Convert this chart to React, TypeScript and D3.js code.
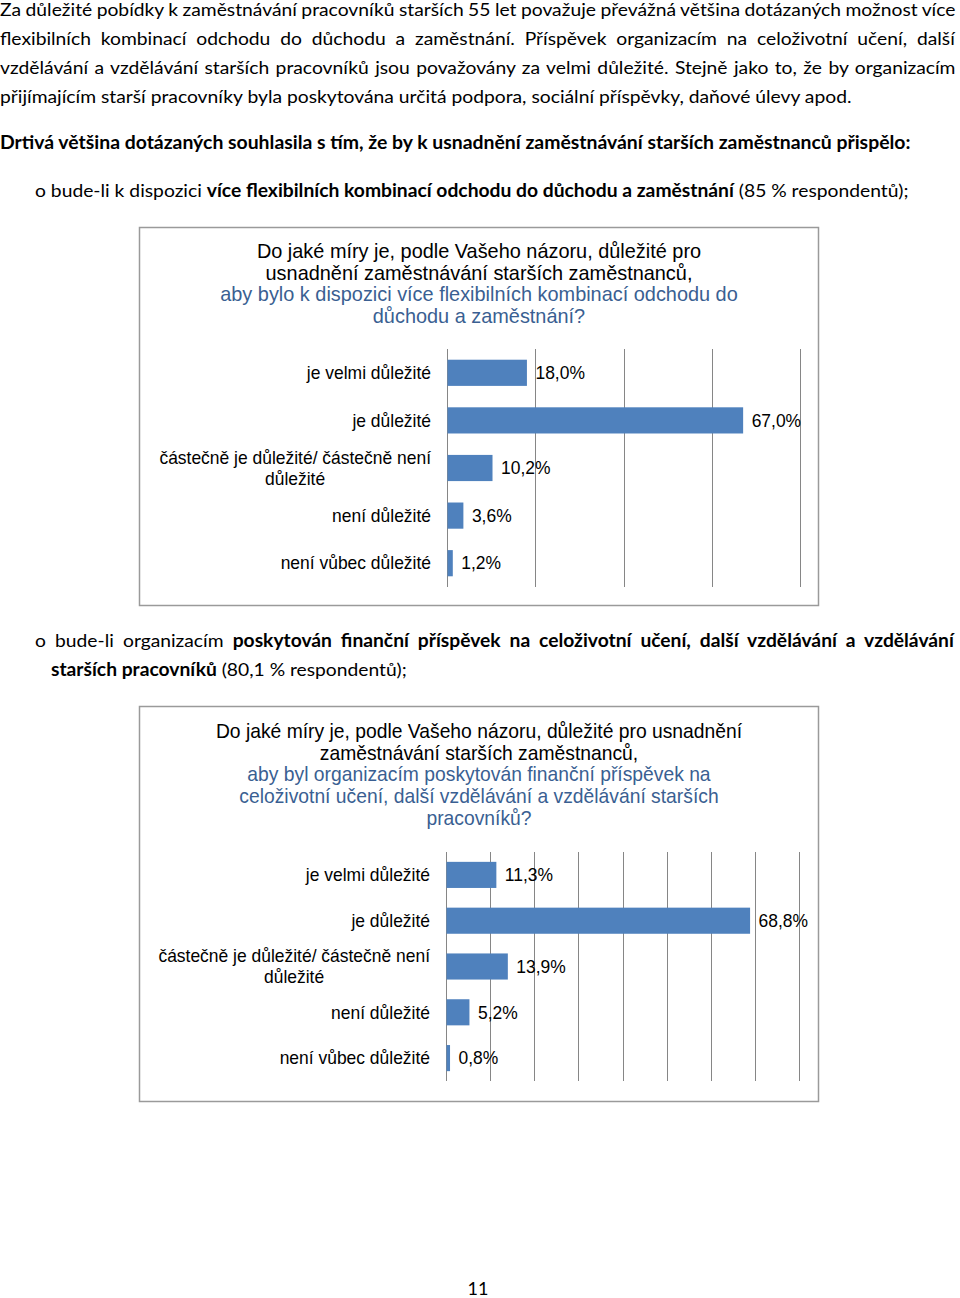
import React, { useEffect, useRef } from "react";
import * as d3 from "d3";

// ---------- text content ----------
const introLines = [
  "Za důležité pobídky k zaměstnávání pracovníků starších 55 let považuje převážná většina dotázaných možnost více",
  "flexibilních kombinací odchodu do důchodu a zaměstnání. Příspěvek organizacím na celoživotní učení, další",
  "vzdělávání a vzdělávání starších pracovníků jsou považovány za velmi důležité. Stejně jako to, že by organizacím",
  "přijímajícím starší pracovníky byla poskytována určitá podpora, sociální příspěvky, daňové úlevy apod.",
];
const summaryLine =
  "Drtivá většina dotázaných souhlasila s tím, že by k usnadnění zaměstnávání starších zaměstnanců přispělo:";
const bullet1Parts: [string, boolean][] = [
  ["o bude-li k dispozici ", false],
  ["více flexibilních kombinací odchodu do důchodu a zaměstnání", true],
  [" (85 % respondentů);", false],
];
const bullet2Line1Parts: [string, boolean][] = [
  ["o bude-li organizacím ", false],
  ["poskytován finanční příspěvek na celoživotní učení, další vzdělávání a vzdělávání", true],
];
const bullet2Line2Parts: [string, boolean][] = [
  ["starších pracovníků", true],
  [" (80,1 % respondentů);", false],
];
const pageNumber = "11";

// ---------- chart data ----------
const categoryLines: string[][] = [
  ["je velmi důležité"],
  ["je důležité"],
  ["částečně je důležité/ částečně není", "důležité"],
  ["není důležité"],
  ["není vůbec důležité"],
];
const categories = categoryLines.map((l) => l.join(" "));
const flexibleValues = [18.0, 67.0, 10.2, 3.6, 1.2];
const financialValues = [11.3, 68.8, 13.9, 5.2, 0.8];
const flexibleTicks = [0, 20, 40, 60, 80];
const financialTicks = [0, 10, 20, 30, 40, 50, 60, 70, 80];
const axisMax = 80;

const flexibleTitle: [string, boolean][] = [
  ["Do jaké míry je, podle Vašeho názoru, důležité pro", false],
  ["usnadnění zaměstnávání starších zaměstnanců,", false],
  ["aby bylo k dispozici více flexibilních kombinací odchodu do", true],
  ["důchodu a zaměstnání?", true],
];
const financialTitle: [string, boolean][] = [
  ["Do jaké míry je, podle Vašeho názoru, důležité pro usnadnění", false],
  ["zaměstnávání starších zaměstnanců,", false],
  ["aby byl organizacím poskytován finanční příspěvek na", true],
  ["celoživotní učení, další vzdělávání a vzdělávání starších", true],
  ["pracovníků?", true],
];

const BODY_FONT = "Lato, 'Open Sans', sans-serif";
const CHART_FONT = "'Liberation Sans', Arial, sans-serif";
const BAR_COLOR = "#4F81BD";
const TITLE_BLUE = "#3A5F92";
const GRID = "#868686";

type LineOpts = {
  x: number;
  y: number;
  parts: [string, boolean][];
  size: number;
  family: string;
  fill?: string;
  mode: "scale" | "justify" | "none";
  target?: number;
  k?: number;
  anchor?: "start" | "middle" | "end";
};

function drawLine(g: any, o: LineOpts): { w: number; k: number } {
  const t = g
    .append("text")
    .attr("x", o.x)
    .attr("y", o.y)
    .attr("font-family", o.family)
    .attr("font-size", o.size)
    .attr("fill", o.fill || "#000")
    .attr("text-anchor", o.anchor || "start")
    .style("white-space", "pre");
  o.parts.forEach(([s, b]) =>
    t.append("tspan").attr("font-weight", b ? "bold" : "normal").text(s)
  );
  const w = (t.node() as SVGTextElement).getBBox().width;
  let k = o.k ?? 1;
  if (o.mode === "scale" && o.target) k = o.target / w;
  if (o.mode === "justify" && o.target) {
    const text = o.parts.map((p) => p[0]).join("");
    const spaces = (text.match(/ /g) || []).length;
    const ws = (o.target / k - w) / spaces;
    t.attr("word-spacing", ws);
  }
  if (k !== 1) t.attr("transform", `translate(${o.x},0) scale(${k},1) translate(${-o.x},0)`);
  return { w, k };
}

type ChartOpts = {
  box: { x: number; y: number; w: number; h: number };
  plot: { x0: number; x1: number; y0: number; y1: number };
  values: number[];
  ticks: number[];
  title: [string, boolean][];
  titleTop: number;
  titleLineH: number;
  titleWidth: number; // width of longest title line
  padding: number;
};

const LABEL_SIZE = 18;
const LABEL_K = 0.97;

function drawChart(svg: any, c: ChartOpts) {
  const g = svg.append("g");
  g.append("rect")
    .attr("x", c.box.x)
    .attr("y", c.box.y)
    .attr("width", c.box.w)
    .attr("height", c.box.h)
    .attr("fill", "#fff")
    .attr("stroke", "#9a9a9a")
    .attr("stroke-width", 1.5);

  const cx = c.box.x + c.box.w / 2;
  const tg = g.append("g");
  const widths: number[] = [];
  c.title.forEach(([s, blue], i) => {
    const t = tg
      .append("text")
      .attr("x", cx)
      .attr("y", c.titleTop + i * c.titleLineH)
      .attr("text-anchor", "middle")
      .attr("font-family", CHART_FONT)
      .attr("font-size", 20)
      .attr("fill", blue ? TITLE_BLUE : "#000")
      .text(s);
    widths.push((t.node() as SVGTextElement).getBBox().width);
  });
  const kt = c.titleWidth / d3.max(widths)!;
  tg.attr("transform", `translate(${cx},0) scale(${kt},1) translate(${-cx},0)`);

  const x = d3.scaleLinear().domain([0, axisMax]).range([c.plot.x0, c.plot.x1]);
  const y = d3
    .scaleBand<string>()
    .domain(categories)
    .range([c.plot.y0, c.plot.y1])
    .paddingInner(c.padding)
    .paddingOuter(c.padding / 2);

  // gridlines
  g.append("g")
    .selectAll("line")
    .data(c.ticks)
    .join("line")
    .attr("x1", (d: number) => Math.round(x(d)) + 0.5)
    .attr("x2", (d: number) => Math.round(x(d)) + 0.5)
    .attr("y1", c.plot.y0)
    .attr("y2", c.plot.y1)
    .attr("stroke", GRID)
    .attr("stroke-width", 1);

  // bars
  g.append("g")
    .selectAll("rect")
    .data(c.values)
    .join("rect")
    .attr("x", x(0) + 0.5)
    .attr("y", (_: number, i: number) => y(categories[i])!)
    .attr("width", (d: number) => x(d) - x(0))
    .attr("height", y.bandwidth())
    .attr("fill", BAR_COLOR);

  // category labels
  const labelX = c.plot.x0 - 16;
  const lg = g.append("g");
  categoryLines.forEach((lines, i) => {
    const cy = y(categories[i])! + y.bandwidth() / 2;
    if (lines.length === 1) {
      lg.append("text")
        .attr("x", labelX)
        .attr("y", cy)
        .attr("dy", "0.35em")
        .attr("text-anchor", "end")
        .attr("font-family", CHART_FONT)
        .attr("font-size", LABEL_SIZE)
        .attr("fill", "#000")
        .text(lines[0]);
    } else {
      const t1 = lg
        .append("text")
        .attr("x", labelX)
        .attr("y", cy - 10.5)
        .attr("dy", "0.35em")
        .attr("text-anchor", "end")
        .attr("font-family", CHART_FONT)
        .attr("font-size", LABEL_SIZE)
        .attr("fill", "#000")
        .text(lines[0]);
      const w1 = (t1.node() as SVGTextElement).getBBox().width;
      lg.append("text")
        .attr("x", labelX - w1 / 2)
        .attr("y", cy + 10.5)
        .attr("dy", "0.35em")
        .attr("text-anchor", "middle")
        .attr("font-family", CHART_FONT)
        .attr("font-size", LABEL_SIZE)
        .attr("fill", "#000")
        .text(lines[1]);
    }
  });
  lg.attr("transform", `translate(${labelX},0) scale(${LABEL_K},1) translate(${-labelX},0)`);

  // value labels
  const fmt = (v: number) => d3.format(".1f")(v).replace(".", ",") + "%";
  c.values.forEach((v, i) => {
    const vx = x(v) + 9;
    g.append("text")
      .attr("x", vx)
      .attr("y", y(categories[i])! + y.bandwidth() / 2)
      .attr("dy", "0.35em")
      .attr("font-family", CHART_FONT)
      .attr("font-size", LABEL_SIZE)
      .attr("fill", "#000")
      .attr("transform", `translate(${vx},0) scale(${LABEL_K},1) translate(${-vx},0)`)
      .text(fmt(v));
  });
}

export default function App() {
  const ref = useRef<SVGSVGElement>(null);

  useEffect(() => {
    const svg = d3.select(ref.current);
    svg.selectAll("*").remove();
    svg.append("rect").attr("width", 960).attr("height", 1298).attr("fill", "#fff");

    // intro paragraph
    const last = drawLine(svg, {
      x: 0,
      y: 16,
      parts: [[introLines[3], false]],
      size: 18,
      family: BODY_FONT,
      mode: "none",
    });
    svg.selectAll("text").remove();
    const kIntro = 852 / last.w;
    introLines.forEach((s, i) => {
      drawLine(svg, {
        x: 0,
        y: 16 + i * 29,
        parts: [[s, false]],
        size: 18,
        family: BODY_FONT,
        mode: i < 3 ? "justify" : "scale",
        target: i < 3 ? 956 : 852,
        k: kIntro,
      });
    });

    drawLine(svg, {
      x: 0,
      y: 149,
      parts: [[summaryLine, true]],
      size: 18,
      family: BODY_FONT,
      mode: "scale",
      target: 911,
    });

    drawLine(svg, {
      x: 35,
      y: 197,
      parts: bullet1Parts,
      size: 18,
      family: BODY_FONT,
      mode: "scale",
      target: 874,
    });

    const b2 = drawLine(svg, {
      x: 51,
      y: 676,
      parts: bullet2Line2Parts,
      size: 18,
      family: BODY_FONT,
      mode: "scale",
      target: 356,
    });
    drawLine(svg, {
      x: 35,
      y: 647,
      parts: bullet2Line1Parts,
      size: 18,
      family: BODY_FONT,
      mode: "justify",
      target: 921,
      k: b2.k,
    });

    drawChart(svg, {
      box: { x: 139.5, y: 227.5, w: 679, h: 378 },
      plot: { x0: 447, x1: 800, y0: 349, y1: 587 },
      values: flexibleValues,
      ticks: flexibleTicks,
      title: flexibleTitle,
      titleTop: 258,
      titleLineH: 21.7,
      titleWidth: 518,
      padding: 0.45,
    });

    drawChart(svg, {
      box: { x: 139.5, y: 706.5, w: 679, h: 395 },
      plot: { x0: 446, x1: 799, y0: 852, y1: 1081 },
      values: financialValues,
      ticks: financialTicks,
      title: financialTitle,
      titleTop: 738,
      titleLineH: 21.7,
      titleWidth: 527,
      padding: 0.43,
    });

    svg
      .append("text")
      .attr("x", 478)
      .attr("y", 1295)
      .attr("text-anchor", "middle")
      .attr("font-family", BODY_FONT)
      .attr("font-size", 18)
      .attr("fill", "#000")
      .text(pageNumber);
  }, []);

  return (
    <svg
      ref={ref}
      width={960}
      height={1298}
      style={{ position: "absolute", left: 0, top: 0, display: "block" }}
    />
  );
}
